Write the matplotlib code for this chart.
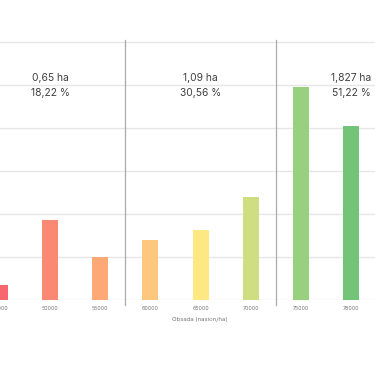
import matplotlib.pyplot as plt

# Dane: obsada (nasion/ha) i powierzchnia (ha)
obsada = ["45000", "50000", "55000", "60000", "65000", "70000", "75000", "78000"]
powierzchnia = [0.068, 0.372, 0.201, 0.278, 0.324, 0.478, 0.990, 0.811]
kolory = ["#F8676E", "#FA8872", "#FDA877", "#FDC87E",
          "#FEE884", "#D0DE82", "#98D07F", "#73C479"]

# Grupy: srodek grupy (indeks kategorii), opis
grupy_srodek = [1, 4, 7]
grupy_ha = ["0,65 ha", "1,09 ha", "1,827 ha"]
grupy_proc = ["18,22 %", "30,56 %", "51,22 %"]
separatory = [2.5, 5.5]

plt.rcParams['font.family'] = ['Inter', 'DejaVu Sans']

fig = plt.figure(figsize=(3.75, 3.66), dpi=100)
ax = fig.add_axes([0, 66 / 366, 1, 280 / 366])

x = range(len(obsada))
ax.bar(x, powierzchnia, width=0.32, color=kolory, zorder=3)

ax.set_xlim(0.026, 7.477)
ax.set_ylim(0, 1.3023)
ax.set_yticks([0, 0.2, 0.4, 0.6, 0.8, 1.0, 1.2])
ax.yaxis.grid(True, color="#E6E6E6", linewidth=1.0, zorder=0)
ax.tick_params(axis="y", left=False, labelleft=False)
ax.set_xticks(list(x))
ax.set_xticklabels(obsada, fontsize=3.8, color="#777777")
ax.tick_params(axis="x", length=0, pad=4)
for s in ax.spines.values():
    s.set_visible(False)

for xs in separatory:
    ax.axvline(xs, ymin=-0.018, ymax=0.929, color="#AAAAAA",
               linewidth=0.9, clip_on=False, zorder=4)

for xc, ha_txt, proc_txt in zip(grupy_srodek, grupy_ha, grupy_proc):
    ax.text(xc, 1.033, ha_txt, ha="center", va="center",
            fontsize=7.4, color="#3F3F3F")
    ax.text(xc, 0.965, proc_txt, ha="center", va="center",
            fontsize=7.4, color="#3F3F3F")

ax.set_xlabel("Obsada (nasion/ha)", fontsize=4.3, color="#777777")
ax.xaxis.set_label_coords(0.533, -0.068)
ax.xaxis.label.set_va("center")

fig.savefig("out.png", dpi=100)
